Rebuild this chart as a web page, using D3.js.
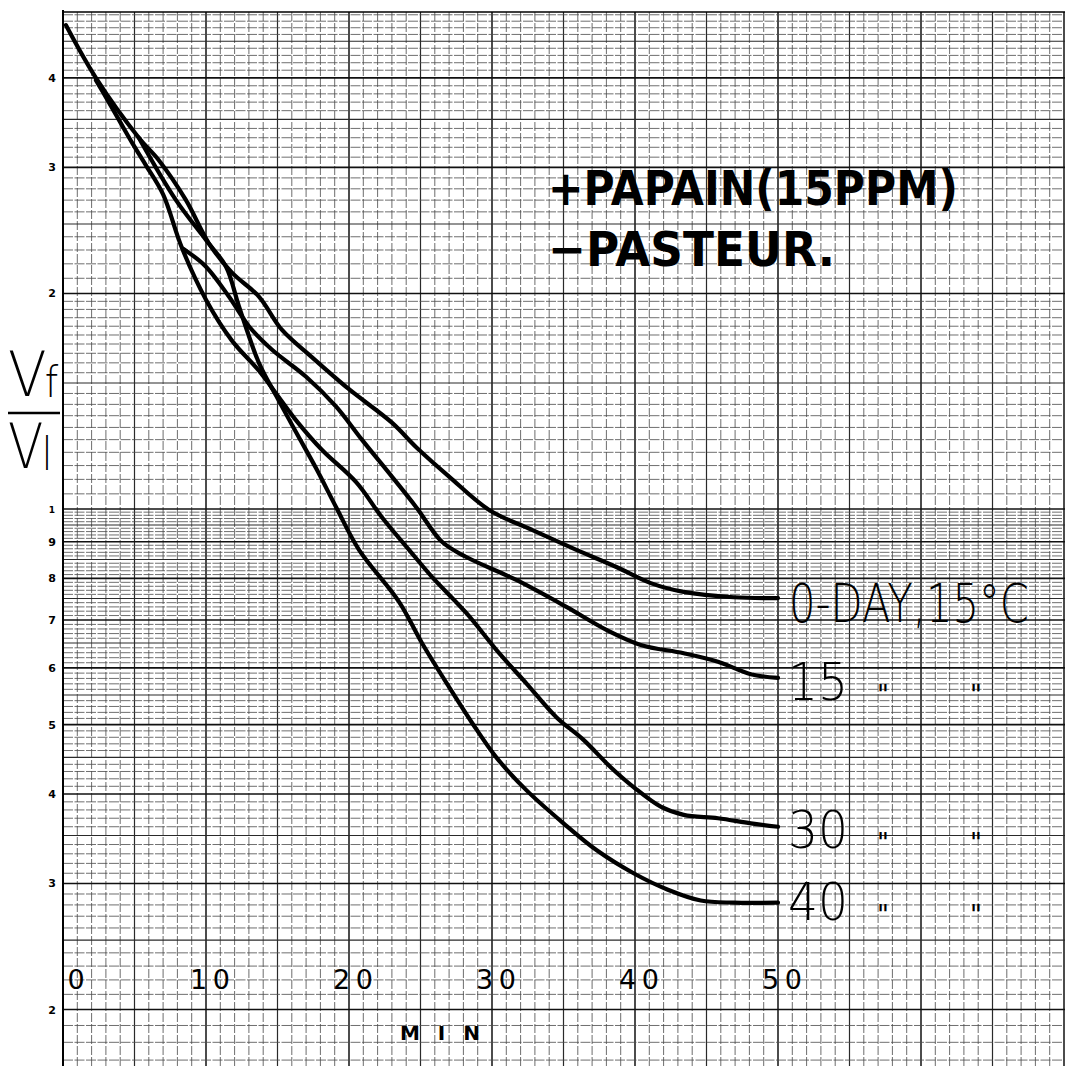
<!DOCTYPE html>
<html><head><meta charset="utf-8">
<script src="https://cdn.jsdelivr.net/npm/d3@7"></script>
<style>html,body{margin:0;padding:0;background:#fff;}svg{display:block;}</style>
</head><body>
<script>
// ---- data ----
const xTickValues = [0, 10, 20, 30, 40, 50];
const xTickLabels = ["0", "10", "20", "30", "40", "50"];
const yTickValues = [0.2, 0.3, 0.4, 0.5, 0.6, 0.7, 0.8, 0.9, 1, 2, 3, 4];
const yTickLabels = ["2", "3", "4", "5", "6", "7", "8", "9", "1", "2", "3", "4"];

const seriesNames = ["0-DAY,15°C", "15", "30", "40"];
const dittoMark = "\"";

const time0  = [0.2, 2.3, 5.3, 6.7, 8.6, 10.2, 11.8, 13.7, 15.3, 17.4, 20.0, 23.0, 24.7, 27.0, 29.8, 32.8, 35.9, 38.7, 41.1, 43.4, 46.9, 50];
const ratio0 = [4.74, 4.0, 3.30, 3.07, 2.70, 2.35, 2.14, 1.98, 1.78, 1.63, 1.47, 1.32, 1.22, 1.11, 0.997, 0.935, 0.877, 0.83, 0.788, 0.766, 0.753, 0.751];

const time15  = [8.4, 10.0, 11.6, 13.0, 14.6, 17.0, 19.1, 20.9, 23.0, 24.7, 26.5, 28.2, 31.7, 35.2, 38.0, 40.4, 43.4, 45.8, 48.1, 50];
const ratio15 = [2.31, 2.18, 1.98, 1.80, 1.67, 1.53, 1.39, 1.25, 1.11, 1.006, 0.90, 0.857, 0.796, 0.730, 0.678, 0.646, 0.629, 0.612, 0.588, 0.581];

const time30  = [2.3, 3.2, 4.0, 4.9, 5.8, 7.0, 8.3, 10.0, 11.8, 13.7, 14.9, 16.3, 18.1, 20.5, 22.3, 24.2, 25.8, 28.2, 30.5, 32.4, 34.5, 36.4, 38.3, 39.9, 41.8, 43.4, 45.8, 48.1, 50];
const ratio30 = [3.97, 3.70, 3.47, 3.23, 3.02, 2.75, 2.32, 1.96, 1.72, 1.56, 1.45, 1.33, 1.21, 1.09, 0.974, 0.877, 0.804, 0.716, 0.629, 0.571, 0.512, 0.476, 0.436, 0.409, 0.384, 0.374, 0.370, 0.364, 0.360];

const time40  = [5.3, 7.9, 10.0, 11.4, 12.3, 13.7, 14.9, 16.3, 17.7, 19.1, 20.7, 23.5, 25.1, 27.0, 28.6, 30.3, 32.4, 35.0, 37.3, 39.9, 42.3, 44.6, 46.9, 50];
const ratio40 = [3.30, 2.70, 2.375, 2.18, 1.92, 1.60, 1.44, 1.28, 1.14, 1.006, 0.877, 0.742, 0.650, 0.564, 0.503, 0.450, 0.405, 0.364, 0.334, 0.310, 0.294, 0.284, 0.282, 0.282];

const titleLines = ["+PAPAIN(15PPM)", "\u2212PASTEUR."];

// ---- layout ----
const W = 1065, H = 1066;
const svg = d3.select("body").append("svg").attr("width", W).attr("height", H);

const yTop = 4.944, yBottom = 0.1668;
const x = d3.scaleLinear().domain([0, 70]).range([63, 1064]);
const y = d3.scaleLog().domain([yBottom, yTop]).range([1066, 12]);

// fit a text horizontally to a target width by scaling its glyphs
function fitText(sel, x0, y0, target) {
  sel.attr("x", 0).attr("y", 0);
  const len = sel.node().getComputedTextLength();
  sel.attr("transform", `translate(${x0},${y0}) scale(${target / len},1)`);
  return sel;
}

const grid = svg.append("g");
// vertical grid lines (1 min)
d3.range(0, 71).forEach(m => {
  const major = m % 10 === 0, mid = m % 5 === 0;
  grid.append("line")
    .attr("x1", x(m)).attr("x2", x(m))
    .attr("y1", y(yTop)).attr("y2", H)
    .attr("stroke", major ? "#111" : mid ? "#2a2a2a" : "#5c5c5c")
    .attr("stroke-width", major ? 1.5 : mid ? 1.2 : 0.9)
    .attr("stroke-dasharray", major || mid ? null : "9,2");
});
// horizontal grid lines (log paper)
const hLines = [];
d3.range(17, 101).forEach(k => hLines.push({v: k / 100, w: k % 10 === 0 ? 2 : (k % 5 === 0 ? 1 : 0)}));
d3.range(21, 41).forEach(k => hLines.push({v: k / 20, w: k % 20 === 0 ? 2 : (k % 10 === 0 ? 1 : 0)}));
d3.range(21, 50).forEach(k => hLines.push({v: k / 10, w: k % 10 === 0 ? 2 : (k % 5 === 0 ? 1 : 0)}));
hLines.forEach(d => {
  grid.append("line")
    .attr("x1", x(0)).attr("x2", W)
    .attr("y1", y(d.v)).attr("y2", y(d.v))
    .attr("stroke", d.w === 2 ? "#111" : d.w === 1 ? "#2a2a2a" : "#4a4a4a")
    .attr("stroke-width", d.w === 2 ? 1.6 : d.w === 1 ? 1.1 : 0.8)
    .attr("stroke-dasharray", d.w ? null : "10,1.5");
});
// top border and left axis
grid.append("line").attr("x1", x(0)).attr("x2", W).attr("y1", y(yTop)).attr("y2", y(yTop))
  .attr("stroke", "#000").attr("stroke-width", 1.6);
grid.append("line").attr("x1", x(0)).attr("x2", x(0)).attr("y1", y(yTop) - 2).attr("y2", H)
  .attr("stroke", "#000").attr("stroke-width", 2);

// y tick labels
svg.append("g").selectAll("text").data(yTickValues).join("text")
  .attr("x", 52).attr("y", d => y(d) + 4)
  .attr("text-anchor", "middle")
  .attr("font-family", "DejaVu Sans, sans-serif")
  .attr("font-weight", "bold")
  .attr("font-size", (d, i) => yTickLabels[i] === "1" ? 9 : 11)
  .text((d, i) => yTickLabels[i]);

// x tick labels
svg.append("g").selectAll("text").data(xTickValues).join("text")
  .attr("x", (d, i) => i === 0 ? x(d) + 13 : x(d) + 4).attr("y", 989)
  .attr("text-anchor", "middle")
  .attr("font-family", "DejaVu Sans, sans-serif")
  .attr("font-size", 27)
  .attr("textLength", (d, i) => xTickLabels[i].length === 1 ? 17 : 40)
  .attr("lengthAdjust", "spacing")
  .text((d, i) => xTickLabels[i]);

// x axis title
svg.append("text").attr("x", 440).attr("y", 1040).attr("text-anchor", "middle")
  .attr("font-family", "DejaVu Sans, sans-serif").attr("font-weight", "bold")
  .attr("font-size", 20).attr("textLength", 80).attr("lengthAdjust", "spacing")
  .text("MIN");

// y axis title  Vf / Vl  (one text per line, subscripts as tspans)
const yt = svg.append("g").attr("font-family", "DejaVu Sans, sans-serif").attr("font-weight", 200);
const t1 = yt.append("text").attr("font-size", 62);
t1.append("tspan").text("V");
t1.append("tspan").attr("font-size", 42).attr("dx", -2).attr("dy", 1).text("f");
fitText(t1, 8, 396, 52);
yt.append("line").attr("x1", 8).attr("x2", 60).attr("y1", 413).attr("y2", 413)
  .attr("stroke", "#000").attr("stroke-width", 2.5);
const t2 = yt.append("text").attr("font-size", 62);
t2.append("tspan").text("V");
t2.append("tspan").attr("font-size", 46).attr("dx", -2).attr("dy", 2).text("l");
fitText(t2, 8, 468, 46);

// curves
const line = d3.line().x(d => x(d[0])).y(d => y(d[1])).curve(d3.curveCatmullRom.alpha(0.5));
const series = [
  d3.zip(time0, ratio0), d3.zip(time15, ratio15), d3.zip(time30, ratio30), d3.zip(time40, ratio40)
];
svg.append("g").selectAll("path").data(series).join("path")
  .attr("d", line).attr("fill", "none").attr("stroke", "#000")
  .attr("stroke-width", 4.2).attr("stroke-linecap", "round").attr("stroke-linejoin", "round");

// curve labels
const lab = svg.append("g").attr("font-family", "DejaVu Sans, sans-serif").attr("font-weight", 200).attr("fill", "#000");
fitText(lab.append("text").attr("font-size", 54).text(seriesNames[0]), 789, 622, 240);
const rows = [{name: seriesNames[1], yb: 700}, {name: seriesNames[2], yb: 848}, {name: seriesNames[3], yb: 920}];
rows.forEach(r => {
  fitText(lab.append("text").attr("font-size", 52).text(r.name), 788, r.yb, 60);
  [883, 976].forEach(xx => lab.append("text").attr("x", xx).attr("y", r.yb + 4)
    .attr("text-anchor", "middle").attr("font-size", 26).attr("font-weight", "normal").text(dittoMark));
});

// annotation
const ann = svg.append("g").attr("font-family", "DejaVu Sans, sans-serif").attr("font-weight", "bold");
fitText(ann.append("text").attr("font-size", 48).text(titleLines[0]), 548, 205, 410);
fitText(ann.append("text").attr("font-size", 48).text(titleLines[1]), 548, 266, 287);
</script>
</body></html>
